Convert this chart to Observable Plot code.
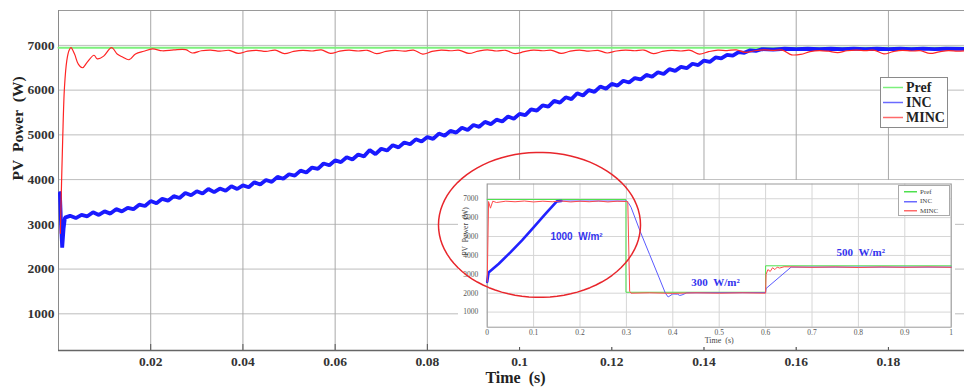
<!DOCTYPE html>
<html>
<head>
<meta charset="utf-8">
<script src="https://cdn.jsdelivr.net/npm/d3@7"></script>
<script src="https://cdn.jsdelivr.net/npm/@observablehq/plot@0.6"></script>
<style>
  html, body { margin: 0; padding: 0; background: #fff; }
  #wrap { position: relative; width: 964px; height: 390px; overflow: hidden; }
  #main g[aria-label="x-axis tick label"], #main g[aria-label="y-axis tick label"] { font-weight: bold; }
  .inset { position: absolute; left: 458px; top: 180px; }
  .legend { position: absolute; background: #fff; font-family: "Liberation Serif", serif; box-sizing: border-box; }
  .legend .row { display: flex; align-items: center; white-space: nowrap; }
</style>
</head>
<body>
<div id="wrap">
  <div id="main"></div>
  <div id="inset" class="inset"></div>
  <div id="legMain" class="legend" style="left:880px;top:77px;width:68px;height:51px;border:1px solid #8a8a8a;padding:2px 0 0 2px;"></div>
  <div id="legInset" class="legend" style="left:898px;top:185px;width:52px;height:31px;border:1px solid #aaa;padding:1px 0 0 5px;"></div>
</div>
<script>
// ---------- main chart data ----------
const mainXTicks = [0.02, 0.04, 0.06, 0.08, 0.1, 0.12, 0.14, 0.16, 0.18];
const mainYTicks = [1000, 2000, 3000, 4000, 5000, 6000, 7000];
const mainPref = [[0, 6945], [0.1965, 6945]];
const mainINC = [
  [0.0003, 3700], [0.0006, 2900], [0.0008, 2480], [0.0011, 2900], [0.0014, 3150],
  [0.0025, 3190], [0.00375, 3140], [0.005, 3210], [0.00625, 3180], [0.0075, 3270], [0.00875, 3210],
  [0.01, 3290], [0.01125, 3240], [0.0125, 3340], [0.01375, 3290], [0.015, 3370], [0.01625, 3340],
  [0.0175, 3440], [0.01875, 3410], [0.02, 3520], [0.02125, 3470], [0.0225, 3570], [0.02375, 3530],
  [0.025, 3630], [0.02625, 3590], [0.0275, 3700], [0.02875, 3650], [0.03, 3740], [0.03125, 3690],
  [0.0325, 3790], [0.03375, 3720], [0.035, 3800], [0.03625, 3750], [0.0375, 3850], [0.03875, 3790],
  [0.04, 3870], [0.04125, 3830], [0.0425, 3940], [0.04375, 3890], [0.045, 3990], [0.04625, 3950],
  [0.0475, 4060], [0.04875, 4020], [0.05, 4120], [0.05125, 4090], [0.0525, 4200], [0.05375, 4160],
  [0.055, 4270], [0.05625, 4240], [0.0575, 4360], [0.05875, 4320], [0.06, 4430], [0.06125, 4390],
  [0.0625, 4500], [0.06375, 4450], [0.065, 4560], [0.06625, 4520], [0.0675, 4660], [0.06875, 4570],
  [0.07, 4690], [0.07125, 4650], [0.0725, 4770], [0.07375, 4720], [0.075, 4830], [0.07625, 4790],
  [0.0775, 4900], [0.07875, 4850], [0.08, 4950], [0.08125, 4910], [0.0825, 5030], [0.08375, 4980],
  [0.085, 5090], [0.08625, 5050], [0.0875, 5160], [0.08875, 5110], [0.09, 5220], [0.09125, 5180],
  [0.0925, 5290], [0.09375, 5240], [0.095, 5340], [0.09625, 5300], [0.0975, 5410], [0.09875, 5360],
  [0.1, 5470], [0.10125, 5440], [0.1025, 5570], [0.10375, 5540], [0.105, 5660], [0.10625, 5630],
  [0.1075, 5760], [0.10875, 5720], [0.11, 5840], [0.11125, 5800], [0.1125, 5930], [0.11375, 5880],
  [0.115, 6000], [0.11625, 5960], [0.1175, 6080], [0.11875, 6030], [0.12, 6140], [0.12125, 6100],
  [0.1225, 6210], [0.12375, 6170], [0.125, 6270], [0.12625, 6240], [0.1275, 6340], [0.12875, 6300],
  [0.13, 6400], [0.13125, 6360], [0.1325, 6470], [0.13375, 6430], [0.135, 6520], [0.13625, 6490],
  [0.1375, 6590], [0.13875, 6560], [0.14, 6660], [0.14125, 6630], [0.1425, 6730], [0.14375, 6710],
  [0.145, 6790], [0.14625, 6770], [0.1475, 6850], [0.14875, 6835], [0.15, 6890], [0.15125, 6875],
  [0.1525, 6915], [0.155, 6905], [0.1575, 6925], [0.16, 6915], [0.1625, 6925], [0.165, 6915],
  [0.1675, 6925], [0.17, 6915], [0.1725, 6930], [0.175, 6915], [0.1775, 6925], [0.18, 6915],
  [0.1825, 6925], [0.185, 6915], [0.1875, 6930], [0.19, 6915], [0.1925, 6925], [0.1965, 6920]
];
const mainMINC = [
  [0.0004, 2800], [0.0009, 4870], [0.0013, 6070], [0.0018, 6660], [0.0023, 6890], [0.0027, 6950],
  [0.0035, 6800], [0.0043, 6580], [0.0052, 6500], [0.0062, 6620], [0.0077, 6780], [0.0084, 6700],
  [0.0098, 6760], [0.0115, 6950], [0.0128, 6800], [0.0139, 6740], [0.0153, 6680], [0.0167, 6810],
  [0.0185, 6870], [0.0204, 6920], [0.0225, 6880], [0.025, 6900], [0.0276, 6905],
  [0.029, 6830], [0.031, 6880], [0.033, 6895], [0.035, 6870], [0.037, 6890], [0.039, 6820],
  [0.041, 6870], [0.043, 6890], [0.045, 6865], [0.047, 6895], [0.049, 6815], [0.051, 6865],
  [0.053, 6890], [0.055, 6875], [0.057, 6900], [0.059, 6820], [0.061, 6870], [0.063, 6895],
  [0.065, 6875], [0.067, 6890], [0.069, 6815], [0.071, 6865], [0.073, 6890], [0.075, 6870],
  [0.077, 6895], [0.079, 6805], [0.081, 6865], [0.083, 6895], [0.085, 6880], [0.087, 6890],
  [0.089, 6820], [0.091, 6870], [0.093, 6900], [0.095, 6875], [0.097, 6890], [0.099, 6815],
  [0.101, 6860], [0.103, 6895], [0.105, 6880], [0.107, 6890], [0.109, 6820], [0.111, 6870],
  [0.113, 6895], [0.115, 6870], [0.117, 6890], [0.119, 6830], [0.121, 6875], [0.123, 6895],
  [0.125, 6880], [0.127, 6895], [0.129, 6815], [0.131, 6865], [0.133, 6890], [0.135, 6875],
  [0.137, 6890], [0.139, 6805], [0.141, 6860], [0.143, 6895], [0.145, 6885], [0.147, 6900],
  [0.149, 6845], [0.151, 6880], [0.153, 6900], [0.155, 6890], [0.157, 6895], [0.159, 6790],
  [0.161, 6800], [0.163, 6860], [0.165, 6885], [0.167, 6870], [0.169, 6840], [0.171, 6880],
  [0.173, 6895], [0.175, 6885], [0.177, 6890], [0.179, 6810], [0.181, 6860], [0.183, 6890],
  [0.185, 6875], [0.187, 6880], [0.189, 6820], [0.191, 6855], [0.193, 6885], [0.195, 6870],
  [0.1965, 6880]
];

// ---------- inset chart data ----------
const insetXTicks = [0, 0.1, 0.2, 0.3, 0.4, 0.5, 0.6, 0.7, 0.8, 0.9, 1];
const insetYTicks = [1000, 2000, 3000, 4000, 5000, 6000, 7000];
const insetPref = [[0, 6960], [0.299, 6960], [0.299, 2050], [0.6, 2050], [0.6, 3450], [1, 3450]];
const insetINCrise = [
  [0, 2600], [0.003, 3100], [0.025, 3560], [0.05, 4160], [0.075, 4800], [0.1, 5480],
  [0.125, 6180], [0.15, 6860], [0.16, 6880]
];
const insetINCrest = [
  [0.16, 6880], [0.3, 6880], [0.305, 6760], [0.31, 6550], [0.33, 5250], [0.35, 4050],
  [0.37, 2850], [0.384, 2000], [0.39, 1800], [0.4, 1960], [0.41, 1950], [0.415, 1880],
  [0.42, 1910], [0.43, 2020], [0.6, 2030], [0.601, 2250], [0.655, 3380], [1, 3380]
];
const insetMINC = [
  [0, 2600], [0.003, 6850], [0.007, 6500], [0.012, 6870], [0.02, 6800], [0.04, 6870],
  [0.06, 6840], [0.08, 6880], [0.1, 6830], [0.12, 6870], [0.14, 6840], [0.16, 6880],
  [0.18, 6830], [0.2, 6870], [0.22, 6840], [0.24, 6880], [0.26, 6830], [0.28, 6870],
  [0.3, 6850], [0.303, 6850], [0.307, 2100], [0.31, 2000], [0.35, 2020], [0.4, 1990],
  [0.45, 2020], [0.5, 2000], [0.55, 2020], [0.6, 2000], [0.601, 3000], [0.605, 3250],
  [0.61, 3150], [0.615, 3350], [0.62, 3250], [0.625, 3380], [0.63, 3330], [0.64, 3400],
  [0.7, 3370], [0.75, 3390], [0.8, 3360], [0.85, 3390], [0.9, 3370], [0.95, 3390], [1, 3370]
];
const insetNotes = [
  {t: 0.1925, p: 5000, text: "1000\u00a0\u00a0W/m\u00b2", font: "Liberation Sans", size: 10},
  {t: 0.492, p: 2570, text: "300\u00a0\u00a0W/m\u00b2", font: "Liberation Serif", size: 11},
  {t: 0.805, p: 4160, text: "500\u00a0\u00a0W/m\u00b2", font: "Liberation Serif", size: 11}
];
// highlight ellipse, in inset data units
const highlight = {t: 0.1127, p: 5614, rt: 0.2177, rp: 3836};

const seriesNames = ["Pref", "INC", "MINC"];
const seriesColors = ["#7cf07c", "#1a1aff", "#ff2424"];
const legendColors = ["#7cf07c", "#6a6aff", "#ff6a6a"];

const toXY = arr => arr.map(([t, p]) => ({t, p}));

// ---------- main chart ----------
const main = Plot.plot({
  width: 964, height: 390,
  marginLeft: 58, marginRight: 0, marginTop: 10, marginBottom: 40,
  x: {domain: [0, 0.1965]},
  y: {domain: [180, 7780]},
  style: {fontFamily: "Liberation Serif", fontSize: "13.5px", color: "#333", background: "#fff"},
  marks: [
    Plot.gridY(mainYTicks, {stroke: "#bdbdbd", strokeOpacity: 1}),
    Plot.gridX(mainXTicks, {stroke: "#a8a8a8", strokeOpacity: 1}),
    Plot.ruleY([7780], {stroke: "#9a9a9a"}),
    Plot.ruleX([0], {stroke: "#8a8a8a"}),
    Plot.line(toXY(mainPref), {x: "t", y: "p", stroke: seriesColors[0], strokeWidth: 2}),
    Plot.line(toXY(mainINC), {x: "t", y: "p", stroke: seriesColors[1], strokeWidth: 3.8, strokeLinejoin: "bevel"}),
    Plot.line(toXY(mainMINC), {x: "t", y: "p", stroke: seriesColors[2], strokeWidth: 1.2, curve: "catmull-rom"}),
    Plot.tickX(mainXTicks, {insetTop: 334, stroke: "#555"}),
    Plot.ruleY([180], {stroke: "#666", strokeWidth: 1.5}),
    Plot.axisY(mainYTicks, {tickSize: 0, tickPadding: 4, label: null, tickFormat: d => String(d), fontWeight: "bold", fill: "#333"}),
    Plot.axisX(mainXTicks, {tickSize: 0, tickPadding: 6, label: null, tickFormat: d => String(d), fontWeight: "bold", fill: "#333"}),
    Plot.text(["Time\u00a0\u00a0(s)"], {frameAnchor: "bottom", dy: 32, dx: 4, fontSize: 16, fontWeight: "bold", fill: "#222"}),
    Plot.text(["PV\u00a0\u00a0Power\u00a0\u00a0(W)"], {frameAnchor: "left", dx: -40, rotate: -90, fontSize: 15.5, fontWeight: "bold", fill: "#222"})
  ]
});
document.getElementById("main").append(main);

// ---------- inset chart ----------
const ell = d3.range(0, 361, 4).map(a => {
  const r = a * Math.PI / 180;
  return {t: highlight.t + highlight.rt * Math.cos(r), p: highlight.p + highlight.rp * Math.sin(r)};
});
const inset = Plot.plot({
  width: 497, height: 167,
  marginLeft: 28.7, marginRight: 4.3, marginTop: 3.5, marginBottom: 20.3,
  x: {domain: [0, 1]},
  y: {domain: [200, 7780]},
  style: {fontFamily: "Liberation Serif", fontSize: "7.5px", color: "#555", background: "#fff", overflow: "visible"},
  marks: [
    Plot.gridY(insetYTicks, {stroke: "#d6d6d6", strokeOpacity: 1}),
    Plot.gridX(insetXTicks, {stroke: "#d6d6d6", strokeOpacity: 1}),
    Plot.frame({stroke: "#9a9a9a"}),
    Plot.line(toXY(insetPref), {x: "t", y: "p", stroke: "#4ee04e", strokeWidth: 1}),
    Plot.line(toXY(insetINCrise), {x: "t", y: "p", stroke: "#2222ff", strokeWidth: 2.6}),
    Plot.line(toXY(insetINCrest), {x: "t", y: "p", stroke: "#5a5aff", strokeWidth: 1}),
    Plot.line(toXY(insetMINC), {x: "t", y: "p", stroke: "#ff4a4a", strokeWidth: 1}),
    Plot.axisY(insetYTicks, {tickSize: 0, tickPadding: 9, label: null, tickFormat: d => String(d), fill: "#555"}),
    Plot.axisX(insetXTicks, {tickSize: 0, tickPadding: 2, label: null, tickFormat: d => String(d), fill: "#555"}),
    Plot.text(["Time\u00a0\u00a0(s)"], {frameAnchor: "bottom", dy: 16, fontSize: 8, fill: "#444"}),
    Plot.text(["PV\u00a0\u00a0Power\u00a0\u00a0(W)"], {frameAnchor: "left", dx: -22, rotate: -90, fontSize: 7.5, fill: "#444"}),
    ...insetNotes.map(n => Plot.text([n], {x: "t", y: "p", text: "text", fontFamily: n.font, fontSize: n.size, fontWeight: "bold", fill: "#3434ee"})),
    Plot.line(ell, {x: "t", y: "p", stroke: "#e8262c", strokeWidth: 1.5})
  ]
});
document.getElementById("inset").append(inset);

// ---------- legends ----------
function legend(el, colors, fontSize, lineW, rowH, gap, bold) {
  seriesNames.forEach((name, i) => {
    const row = document.createElement("div");
    row.className = "row";
    row.style.height = rowH + "px";
    row.innerHTML = `<svg width="${lineW}" height="${rowH}"><line x1="0" x2="${lineW}" y1="${rowH / 2}" y2="${rowH / 2}" stroke="${colors[i]}" stroke-width="1.5"/></svg>` +
      `<span style="margin-left:${gap}px;font-size:${fontSize}px;font-weight:${bold ? "bold" : "normal"};color:${bold ? "#222" : "#444"}">${name}</span>`;
    el.append(row);
  });
}
legend(document.getElementById("legMain"), legendColors, 14, 20, 15, 3, true);
legend(document.getElementById("legInset"), ["#4ee04e", "#6a6aff", "#ff6a6a"], 7, 13, 9.5, 3, false);
</script>
</body>
</html>
